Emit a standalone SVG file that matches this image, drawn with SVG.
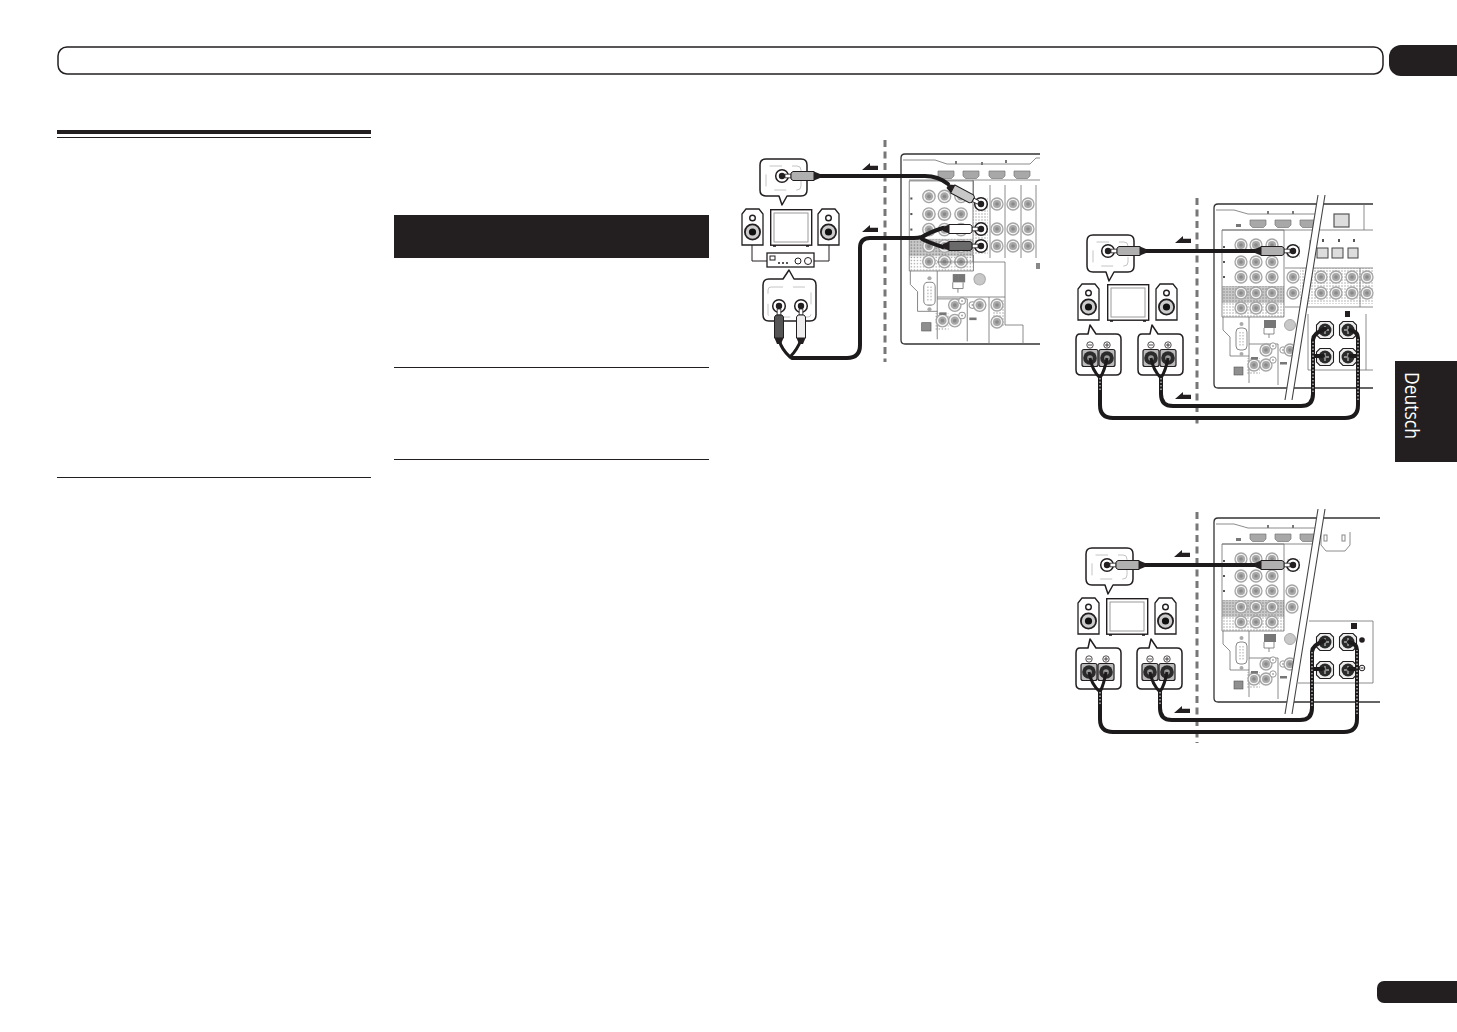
<svg xmlns="http://www.w3.org/2000/svg" xmlns:xlink="http://www.w3.org/1999/xlink" width="1457" height="1032" viewBox="0 0 1457 1032">
<style>
.bk{fill:#231f20}
.pl{fill:none;stroke:#6f6f6f;stroke-width:.8}
.bub{fill:#fff;stroke:#231f20;stroke-width:1.500;stroke-linejoin:round}
.inn{fill:none;stroke:#b5b5b5;stroke-width:.8;stroke-dasharray:12 10}
.cab{fill:none;stroke:#1c1a1b;stroke-width:4;stroke-linecap:round;stroke-linejoin:round}
.thin{fill:none;stroke:#1c1a1b;stroke-width:3}
.dot{fill:none;stroke:#fff;stroke-width:1;stroke-dasharray:1.500 2}
.dash{fill:none;stroke:#777;stroke-width:3;stroke-dasharray:7 4.500}
.wire{fill:none;stroke:#231f20;stroke-width:1}
.sl{fill:none;stroke:#444;stroke-width:1.100}
</style>
<defs>
<pattern id="st1" width="3" height="3" patternUnits="userSpaceOnUse"><rect width="3" height="3" fill="#c9c9c9"/><circle cx="1" cy="1" r=".8" fill="#8c8c8c"/></pattern>
<pattern id="st2" width="3" height="3" patternUnits="userSpaceOnUse"><rect width="3" height="3" fill="#fff"/><circle cx="1" cy="1" r=".7" fill="#999"/></pattern>
<g id="j"><circle r="6" fill="#f4f4f4" stroke="#a5a5a5" stroke-width="1.300"/><circle r="4" fill="#a8a8a8"/><circle r="1.800" fill="#8a8a8a"/></g>
<g id="js"><circle r="3.200" fill="#fff" stroke="#999"/><circle r="1" fill="#aaa"/></g>
<g id="jd"><circle r="6.300" fill="#fff" stroke="#231f20" stroke-width="1.500"/><circle r="3.200" fill="#231f20"/></g>
<g id="pg"><path d="M3 -1.800H9V1.800H3Z" fill="#fff" stroke="#231f20" stroke-width=".8"/><path d="M9 -3L11 -4.500H32V4.500H11L9 3Z" fill="currentColor" stroke="#231f20" stroke-width="1"/><path d="M32 -4.500L38 -2V2L32 4.500Z" fill="#231f20"/></g>
<g id="hdmi"><path d="M0 0H16V5L13.500 7.500H2.500L0 5Z" fill="#a8a8a8" stroke="#777" stroke-width=".7"/></g>
<g id="spk"><path d="M0 36V5L4 0H17L21 5V36Z" fill="#fff" stroke="#231f20" stroke-width="1.300"/><circle cx="10.500" cy="9" r="2.800" fill="#fff" stroke="#231f20" stroke-width="1.400"/><circle cx="10.500" cy="23" r="7.600" fill="#ccc" stroke="#231f20" stroke-width="1.800"/><circle cx="10.500" cy="23" r="3.600" fill="#111"/></g>
<g id="tv"><rect x=".7" y=".7" width="41" height="35.500" fill="#fff" stroke="#231f20" stroke-width="1.400"/><rect x="4" y="4" width="34" height="29" fill="#fff" stroke="#9a9a9a"/><rect x="3" y="36" width="3" height="1.800" class="bk"/><rect x="36" y="36" width="3" height="1.800" class="bk"/></g>
<g id="bubt"><path d="M6 0H41Q47 0 47 6V31Q47 37 41 37H27L22 46L19 37H6Q0 37 0 31V6Q0 0 6 0Z" class="bub"/><rect x="6" y="7" width="35" height="24" rx="4" class="inn"/></g>
<g id="bubs"><path d="M4 9H12L14 0L20 9H40Q45 9 45 14V45Q45 50 40 50H5Q0 50 0 45V14Q0 9 4 9Z" class="bub"/></g>
<g id="st"><rect x="-8" y="-8.500" width="16" height="17" rx="2" fill="#bbb" stroke="#231f20" stroke-width="1.200"/><circle r="6.800" fill="#2b2b2b"/><circle r="2.800" fill="#9a9a9a"/></g>
<g id="bt"><path d="M-5 -8.500H5L8.500 -5V5L5 8.500H-5L-8.500 5V-5Z" fill="#eee" stroke="#231f20" stroke-width="1.100"/><circle r="6.500" fill="#2b2b2b"/><path d="M-4 0H4M0 -4V4" stroke="#aaa" stroke-width="1.400"/><circle r="1.800" fill="#888"/></g>
<g id="pm"><circle r="3.200" fill="none" stroke="#231f20" stroke-width=".8"/><path d="M-2 0H2" stroke="#231f20" stroke-width=".8"/></g>
<g id="pp"><circle r="3.200" fill="none" stroke="#231f20" stroke-width=".8"/><path d="M-2 0H2M0 -2V2" stroke="#231f20" stroke-width=".8"/></g>
<path id="arrow" d="M0 7L8 0L8 2.800H16V7Z" class="bk"/>
<g id="core">
<rect x="8" y="82" width="62" height="17" fill="url(#st1)"/>
<rect x="8" y="99" width="62" height="14" fill="url(#st2)"/>
<rect x="33" y="154" width="13" height="17" fill="url(#st2)"/>
<path class="pl" d="M8 26H70M70 26V113M8 26V113M8 113H70M9 113V126L16 133V152H35M35 113V179M35 140H64V181M64 160"/>
<use href="#j" x="27" y="41"/><use href="#j" x="42" y="41"/><use href="#j" x="58" y="41"/>
<use href="#j" x="27" y="58"/><use href="#j" x="42" y="58"/><use href="#j" x="58" y="58"/>
<use href="#j" x="27" y="73"/><use href="#j" x="42" y="73"/><use href="#j" x="58" y="73"/>
<use href="#j" x="27" y="89"/><use href="#j" x="42" y="89"/><use href="#j" x="58" y="89"/>
<use href="#j" x="27" y="104"/><use href="#j" x="42" y="104"/><use href="#j" x="58" y="104"/>
<rect x="22" y="124" width="11" height="22" rx="4" fill="#fff" stroke="#888"/><circle cx="27.500" cy="120" r="2" fill="#aaa"/><circle cx="27.500" cy="150" r="2" fill="#aaa"/><path d="M26 128V142M29 128V142" stroke="#aaa" stroke-dasharray="1.500 1.500"/>
<rect x="50" y="116" width="6" height="8" fill="#777"/><rect x="56" y="116" width="6" height="8" fill="#777"/><path class="pl" d="M50 124V130H60V124M55 130V134"/>
<circle cx="76" cy="121" r="5.500" fill="#c8c8c8" stroke="#aaa"/>
<rect x="20" y="163" width="9" height="8" fill="#8f8f8f" stroke="#555" stroke-width=".6"/>
<use href="#j" x="40" y="161"/><use href="#j" x="52" y="146"/><use href="#j" x="52" y="161"/><use href="#js" x="59" y="142"/><use href="#js" x="59" y="156"/><use href="#js" x="69" y="146"/><use href="#j" x="76" y="146"/>
<rect x="37" y="153" width="7" height="2.500" fill="#777"/>
<rect x="66" y="158" width="7" height="2.500" fill="#777"/>
<rect x="9" y="42" width="2" height="2" fill="#555"/><rect x="9" y="57" width="2" height="2" fill="#555"/><rect x="9" y="72" width="2" height="2" fill="#555"/>
</g>
</defs>

<rect width="1457" height="1032" fill="#fff"/>

<g id="header"><rect x="58" y="47" width="1325" height="27" rx="9" fill="#fff" stroke="#231f20" stroke-width="1.500"/></g>
<g id="chapter-tab"><rect x="1389" y="45" width="80" height="31" rx="12" class="bk"/></g>
<g id="page-pill"><rect x="1377" y="981" width="90" height="22" rx="7" class="bk"/></g>
<g id="lang-tab"><rect x="1395" y="361" width="62" height="101" class="bk"/><text transform="translate(1405 372) rotate(90)" font-family="'Open Sans','Noto Sans',sans-serif" font-size="20" fill="#fff" textLength="67" lengthAdjust="spacingAndGlyphs">Deutsch</text></g>
<g id="left-rules"><rect x="57" y="130" width="314" height="4" class="bk"/><rect x="57" y="137" width="314" height="1" class="bk"/><rect x="57" y="477" width="314" height="1" class="bk"/></g>
<g id="table"><rect x="394" y="215" width="315" height="43" class="bk"/><rect x="394" y="367" width="315" height="1" class="bk"/><rect x="394" y="459" width="315" height="1" class="bk"/></g>

<!-- Diagram A -->
<g id="a-panel">
<path d="M1040 154H905Q901 154 901 158V340Q901 344 905 344H1040" fill="#fff" stroke="#333" stroke-width="1.300"/>
<path class="pl" d="M903 160H935L947 164H1030L1036 158H1040M909 180H1040"/>
<use href="#hdmi" x="938" y="171"/><use href="#hdmi" x="963" y="171"/><use href="#hdmi" x="989" y="171"/><use href="#hdmi" x="1014" y="171"/>
<rect x="955" y="161" width="2" height="3" fill="#777"/><rect x="981" y="162" width="2" height="3" fill="#777"/><rect x="1005" y="160" width="2" height="3" fill="#777"/>
<use href="#core" transform="translate(901 154) scale(1.035)"/>
<rect x="973" y="197" width="15" height="58" fill="url(#st2)"/>
<rect x="992" y="300" width="12" height="26" fill="url(#st2)"/>
<path class="pl" d="M973 180V262M990 185V258M1005 185V258M1021 185V258M1036 185V258M937 262H1005M1005 262V325H1023V344M937 297H1005M989 297V344"/>
<use href="#j" x="997" y="204"/><use href="#j" x="1013" y="204"/><use href="#j" x="1028" y="204"/>
<use href="#j" x="997" y="229"/><use href="#j" x="1013" y="229"/><use href="#j" x="1028" y="229"/>
<use href="#j" x="997" y="246"/><use href="#j" x="1013" y="246"/><use href="#j" x="1028" y="246"/>
<use href="#j" x="997" y="305"/><use href="#j" x="997" y="322"/>
<rect x="1036" y="263" width="4" height="6" fill="#888"/>
<use href="#jd" x="981" y="204"/><use href="#jd" x="981" y="229"/><use href="#jd" x="981" y="246"/>
</g>
<g id="a-dash"><path class="dash" d="M885 140V362"/></g>
<g id="a-bubble-top"><use href="#bubt" x="760" y="159"/><use href="#jd" x="782" y="176"/></g>
<g id="a-speaker-l"><use href="#spk" x="742" y="209"/></g>
<g id="a-tv"><use href="#tv" x="770" y="209"/></g>
<g id="a-speaker-r"><use href="#spk" x="818" y="209"/></g>
<g id="a-amp"><rect x="767" y="253" width="47" height="14" fill="#fff" stroke="#231f20" stroke-width="1.300"/><rect x="770" y="256" width="5" height="4" fill="none" stroke="#231f20"/><circle cx="779" cy="263" r="1" class="bk"/><circle cx="783" cy="263" r="1" class="bk"/><circle cx="787" cy="263" r="1" class="bk"/><circle cx="798" cy="261" r="3" fill="#fff" stroke="#231f20"/><circle cx="808" cy="261" r="3.500" fill="#fff" stroke="#231f20"/></g>
<g id="a-bubble-bot"><path class="bub" d="M769 279H783L789 270L794 279H810Q816 279 816 285V315Q816 321 810 321H769Q763 321 763 315V285Q763 279 769 279Z"/><rect x="768" y="287" width="43" height="30" rx="3" class="inn"/><use href="#jd" x="779" y="306"/><use href="#jd" x="801" y="306"/></g>

<!-- Diagram B -->
<g id="b-panel">
<path d="M1373 204H1218Q1214 204 1214 208V384Q1214 388 1218 388H1373" fill="#fff" stroke="#333" stroke-width="1.300"/>
<path class="pl" d="M1216 210H1234L1248 214H1316M1222 230H1373M1364 204V230"/>
<use href="#hdmi" x="1250" y="220"/><use href="#hdmi" x="1275" y="220"/><use href="#hdmi" x="1300" y="220"/>
<rect x="1267" y="211" width="2" height="3" fill="#777"/><rect x="1292" y="211" width="2" height="3" fill="#777"/><rect x="1236" y="224" width="5" height="3" fill="#777"/>
<use href="#core" transform="translate(1214 204)"/>
<rect x="1286" y="245" width="14" height="12" fill="url(#st2)"/>
<use href="#j" x="1293" y="277"/><use href="#j" x="1293" y="293"/>
<rect x="1300" y="268" width="73" height="36" fill="url(#st2)"/>
<path class="pl" d="M1285 268H1373M1285 307H1373M1360 268V307M1310 240V268M1308 314V370H1373M1366 314V370"/>
<use href="#j" x="1321" y="277"/><use href="#j" x="1336" y="277"/><use href="#j" x="1352" y="277"/><use href="#j" x="1367" y="277"/>
<use href="#j" x="1321" y="293"/><use href="#j" x="1336" y="293"/><use href="#j" x="1352" y="293"/><use href="#j" x="1367" y="293"/>
<rect x="1334" y="214" width="15" height="13" fill="#ddd" stroke="#555" stroke-width="1.200"/>
<g fill="#ddd" stroke="#444"><rect x="1317" y="248" width="11" height="10"/><rect x="1332" y="248" width="11" height="10"/><rect x="1348" y="248" width="10" height="10"/></g>
<g fill="#555"><rect x="1322" y="239" width="2" height="3"/><rect x="1338" y="239" width="2" height="3"/><rect x="1353" y="239" width="2" height="3"/></g>
</g>
<g id="b-slash"><path d="M1318 195L1285 400H1292L1325 195Z" fill="#fff"/><path class="sl" d="M1318 195L1285 400M1325 195L1292 400"/></g>
<g id="b-dash"><path class="dash" d="M1197 198V428"/></g>
<g id="b-jack"><use href="#jd" x="1293" y="251"/></g>
<g id="b-term-out"><use href="#bt" x="1325" y="330"/><use href="#bt" x="1348" y="330"/><use href="#bt" x="1325" y="357"/><use href="#bt" x="1348" y="357"/><rect x="1345" y="311" width="5" height="6" class="bk"/></g>
<g id="b-bubble-top"><use href="#bubt" x="1087" y="235"/><use href="#jd" x="1108" y="251"/></g>
<g id="b-speaker-l"><use href="#spk" x="1078" y="284"/></g>
<g id="b-tv"><use href="#tv" x="1107" y="284"/></g>
<g id="b-speaker-r"><use href="#spk" x="1156" y="284"/></g>
<g id="b-bubble-l"><use href="#bubs" x="1076" y="325"/><use href="#pm" x="1090" y="345"/><use href="#pp" x="1107" y="345"/><use href="#st" x="1090" y="358"/><use href="#st" x="1107" y="358"/></g>
<g id="b-bubble-r"><use href="#bubs" x="1138" y="325"/><use href="#pm" x="1151" y="345"/><use href="#pp" x="1168" y="345"/><use href="#st" x="1151" y="358"/><use href="#st" x="1168" y="358"/></g>

<!-- Diagram C -->
<g id="c-panel">
<path d="M1380 518H1218Q1214 518 1214 522V698Q1214 702 1218 702H1380" fill="#fff" stroke="#333" stroke-width="1.300"/>
<path class="pl" d="M1216 524H1234L1248 528H1316M1222 544H1316"/>
<use href="#hdmi" x="1250" y="534"/><use href="#hdmi" x="1275" y="534"/><use href="#hdmi" x="1300" y="534"/>
<rect x="1267" y="525" width="2" height="3" fill="#777"/><rect x="1292" y="525" width="2" height="3" fill="#777"/><rect x="1236" y="538" width="5" height="3" fill="#777"/>
<use href="#core" transform="translate(1214 518)"/>
<rect x="1286" y="559" width="14" height="12" fill="url(#st2)"/>
<use href="#j" x="1292" y="591"/><use href="#j" x="1292" y="607"/>
<path class="pl" d="M1321 532V545L1326 551H1345L1350 545V532M1309 621H1373V683H1298"/>
<g fill="none" stroke="#888"><rect x="1324" y="535" width="3" height="6"/><rect x="1342" y="535" width="3" height="6"/></g>
</g>
<g id="c-slash"><path d="M1318 509L1285 714H1292L1325 509Z" fill="#fff"/><path class="sl" d="M1318 509L1285 714M1325 509L1292 714"/></g>
<g id="c-dash"><path class="dash" d="M1197 512V743"/></g>
<g id="c-jack"><use href="#jd" x="1293" y="565"/></g>
<g id="c-term-out"><use href="#bt" x="1325" y="642"/><use href="#bt" x="1348" y="642"/><use href="#bt" x="1325" y="670"/><use href="#bt" x="1348" y="670"/><rect x="1351" y="623" width="6" height="6" class="bk"/><circle cx="1362" cy="640" r="2.800" class="bk"/><circle cx="1362" cy="668" r="2.800" fill="#fff" stroke="#231f20"/><path d="M1360.500 668H1363.500" stroke="#231f20"/></g>
<g id="c-bubble-top"><use href="#bubt" x="1086" y="548"/><use href="#jd" x="1107" y="565"/></g>
<g id="c-speaker-l"><use href="#spk" x="1078" y="598"/></g>
<g id="c-tv"><use href="#tv" x="1106" y="598"/></g>
<g id="c-speaker-r"><use href="#spk" x="1155" y="598"/></g>
<g id="c-bubble-l"><use href="#bubs" x="1076" y="639"/><use href="#pm" x="1089" y="659"/><use href="#pp" x="1106" y="659"/><use href="#st" x="1089" y="672"/><use href="#st" x="1106" y="672"/></g>
<g id="c-bubble-r"><use href="#bubs" x="1137" y="639"/><use href="#pm" x="1150" y="659"/><use href="#pp" x="1167" y="659"/><use href="#st" x="1150" y="672"/><use href="#st" x="1167" y="672"/></g>

<g id="connectors">
<!-- A -->
<path class="wire" d="M752 245V261H767M829 245V261H814"/>
<path class="cab" d="M815 176H925Q938 176 948 184"/>
<path class="cab" d="M943 228Q930 232 922 237Q918 238 914 238H870Q860 238 860 248V345Q860 358 847 358H792"/>
<path class="cab" d="M943 247Q930 243 922 239"/>
<path class="thin" d="M779 340Q782 350 790 357Q797 350 801 340"/>
<use href="#arrow" x="862" y="163"/>
<use href="#arrow" x="862" y="225"/>
<use href="#pg" transform="translate(782 176)" color="#b0b0b0"/>
<use href="#pg" transform="translate(981 204) rotate(208)" color="#c8c8c8"/>
<use href="#pg" transform="translate(981 229) rotate(180)" color="#ffffff"/>
<use href="#pg" transform="translate(981 246) rotate(180)" color="#6a6a6a"/>
<use href="#pg" transform="translate(779 306) rotate(90)" color="#555"/>
<use href="#pg" transform="translate(801 306) rotate(90)" color="#eee"/>
<!-- B -->
<path class="cab" d="M1140 251H1258"/>
<path class="thin" d="M1090 358Q1092 370 1100 378Q1105 370 1107 358"/>
<path class="thin" d="M1151 358Q1153 370 1161 378Q1166 370 1168 358"/>
<path class="cab" d="M1100 378V405Q1100 418 1113 418H1345Q1358 418 1358 405V338Q1358 332 1350 330"/>
<path class="cab" d="M1161 378V394Q1161 406 1173 406H1301Q1313 406 1313 394V340Q1313 333 1325 329"/>
<path class="cab" d="M1313 356H1323M1358 356H1350"/>
<path class="dot" d="M1358 400V338M1313 392V340M1100 378V390M1161 378V390"/>
<use href="#arrow" x="1175" y="236"/>
<use href="#arrow" x="1175" y="392"/>
<use href="#pg" transform="translate(1108 251)" color="#b0b0b0"/>
<use href="#pg" transform="translate(1293 251) rotate(180)" color="#b0b0b0"/>
<!-- C -->
<path class="cab" d="M1140 565H1258"/>
<path class="thin" d="M1089 672Q1091 684 1100 692Q1104 684 1106 672"/>
<path class="thin" d="M1150 672Q1152 684 1160 692Q1165 684 1167 672"/>
<path class="cab" d="M1100 692V719Q1100 732 1113 732H1344Q1357 732 1357 719V650Q1357 644 1349 642"/>
<path class="cab" d="M1160 692V708Q1160 720 1172 720H1300Q1312 720 1312 708V652Q1312 645 1324 641"/>
<path class="cab" d="M1312 669H1323M1357 669H1349"/>
<path class="dot" d="M1357 714V650M1312 706V652M1100 692V704M1160 692V704"/>
<use href="#arrow" x="1174" y="550"/>
<use href="#arrow" x="1174" y="706"/>
<use href="#pg" transform="translate(1107 565)" color="#b0b0b0"/>
<use href="#pg" transform="translate(1293 565) rotate(180)" color="#b0b0b0"/>
</g>
</svg>
